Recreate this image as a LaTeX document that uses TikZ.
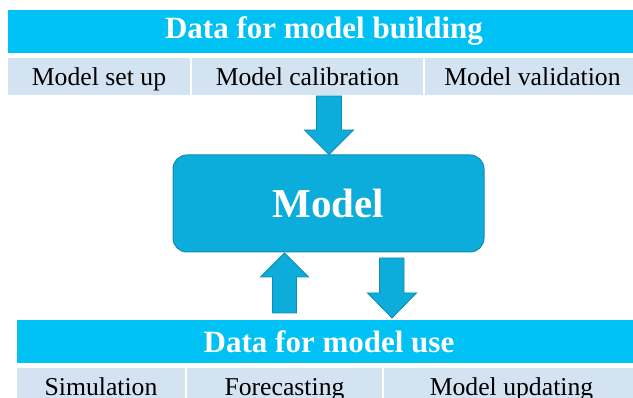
\documentclass[tikz,border=0pt]{standalone}
\usepackage{fontspec}
\setmainfont{Liberation Serif}
\definecolor{barcyan}{RGB}{0,193,243}
\definecolor{celllight}{RGB}{211,227,242}
\definecolor{modelfill}{RGB}{12,173,219}
\definecolor{modeldraw}{RGB}{14,140,182}
\tikzset{
  bar/.style={fill=barcyan, draw=none, inner sep=0pt, text=white,
    font=\fontsize{31}{31}\selectfont\bfseries, minimum height=43pt},
  cell/.style={fill=celllight, draw=none, inner sep=0pt, text=black,
    font=\fontsize{25.7}{25.7}\selectfont, minimum height=37pt,
    text height=24pt, text depth=5pt},
  modelbox/.style={fill=modelfill, draw=modeldraw, line width=1pt, rounded corners=14pt,
    inner sep=0pt, text=white, font=\fontsize{41}{41}\selectfont\bfseries,
    minimum width=311pt, minimum height=97pt},
  blockarrow/.style={fill=modelfill, draw=modeldraw, line width=0.8pt, line join=miter}
}
\begin{document}
\begin{tikzpicture}[x=1pt,y=1pt]
\useasboundingbox (0,0) rectangle (633,398);
\clip (0,0) rectangle (633,398);
% top block
\node[bar, minimum width=632pt] (topbar) at (324,366.5) {};
\node[font=\fontsize{31}{31}\selectfont\bfseries, text=white] (toptitle) at (324,366.5) {Data for model building};
\node[cell, minimum width=182pt] (c1) at (99,321.5) {Model set up};
\node[cell, minimum width=231pt] (c2) at (307.5,321.5) {Model calibration};
\node[cell, minimum width=215pt] (c3) at (532.5,321.5) {Model validation};
% model
\node[modelbox] (model) at (328.5,194.5) {Model};
% bottom block
\node[bar, minimum width=624pt] (botbar) at (329,56.5) {};
\node[font=\fontsize{31}{31}\selectfont\bfseries, text=white] (bottitle) at (329,56.5) {Data for model use};
\node[cell, minimum width=168pt] (d1) at (101,11.5) {Simulation};
\node[cell, minimum width=195pt] (d2) at (284.5,11.5) {Forecasting};
\node[cell, minimum width=255pt] (d3) at (511.5,11.5) {Model updating};
% arrows
\draw[blockarrow] (316.5,302) -- (341.5,302) -- (341.5,268) -- (353.5,268) -- (329,243.5)
  -- (304.5,268) -- (316.5,268) -- cycle;
\draw[blockarrow] (272.5,85) -- (296.5,85) -- (296.5,121) -- (308.5,121) -- (284.5,145)
  -- (260.5,121) -- (272.5,121) -- cycle;
\draw[blockarrow] (379.5,140) -- (404,140) -- (404,105) -- (416.5,105) -- (392,80)
  -- (367.5,105) -- (379.5,105) -- cycle;
\end{tikzpicture}
\end{document}
